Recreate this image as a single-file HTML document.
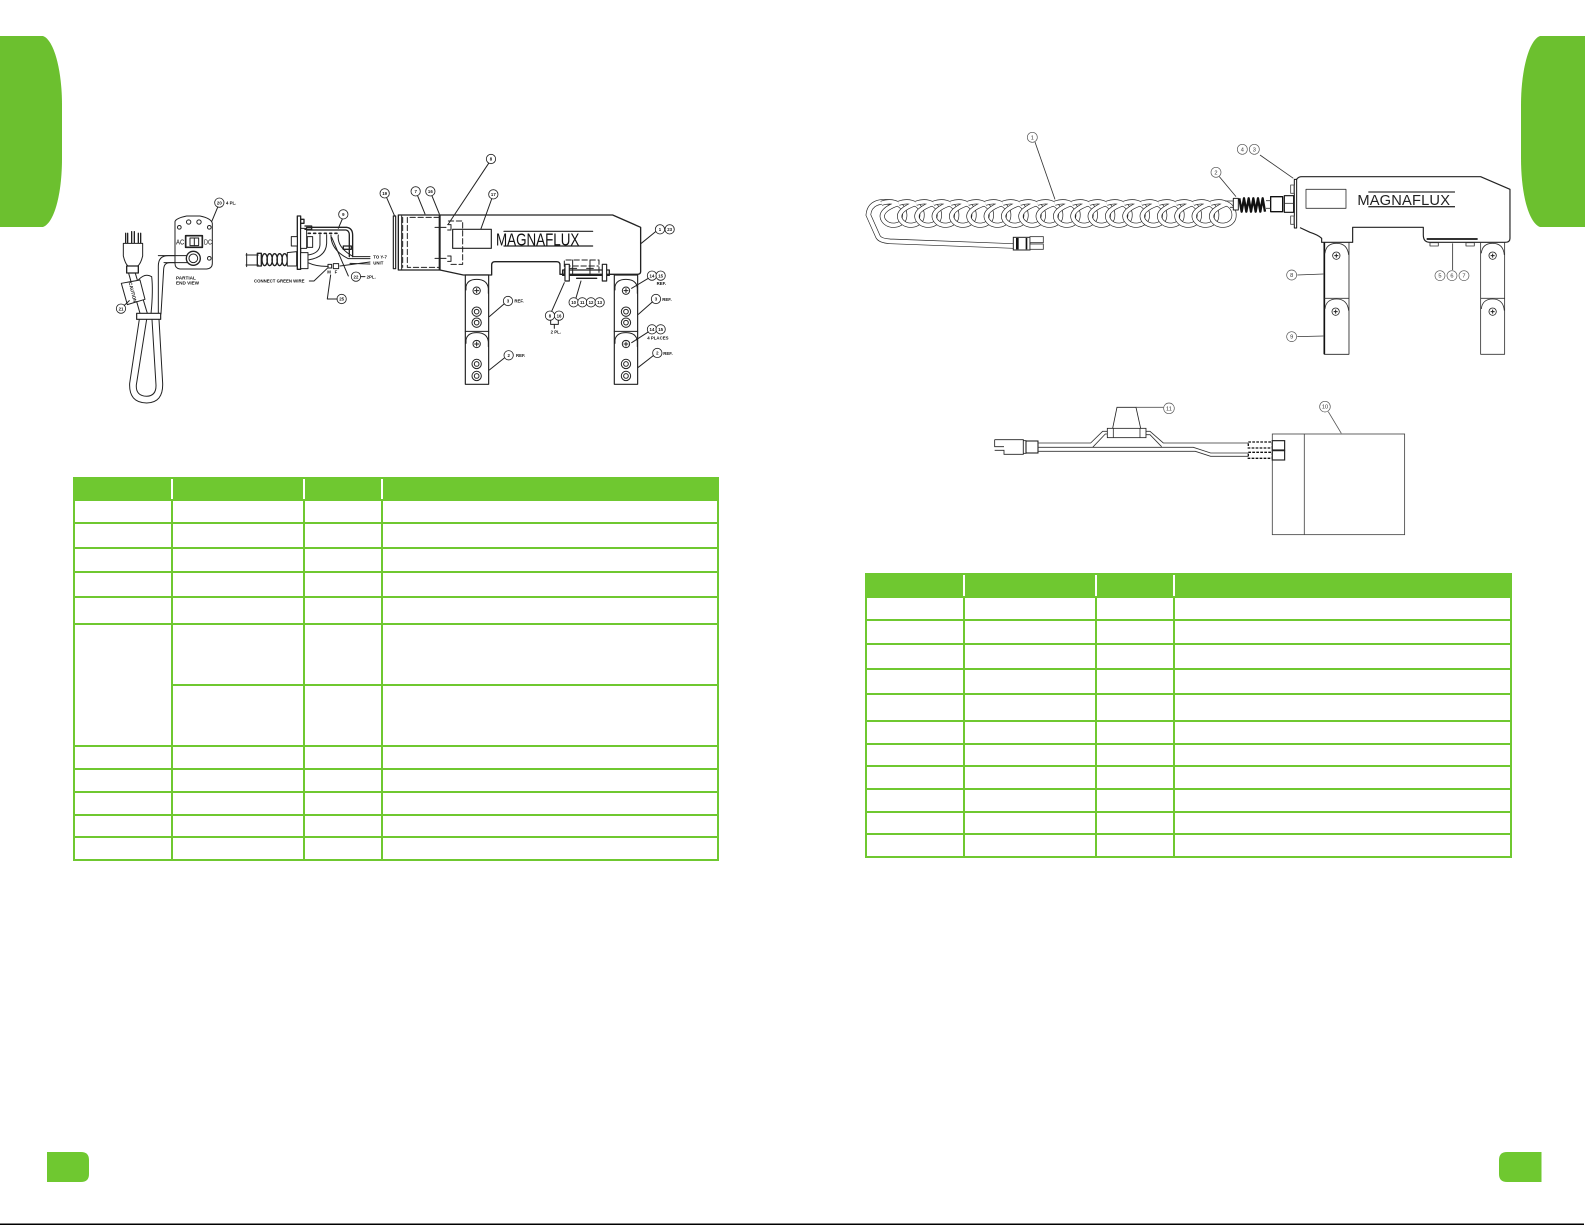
<!DOCTYPE html>
<html>
<head>
<meta charset="utf-8">
<style>
html,body{margin:0;padding:0;background:#fff;width:1585px;height:1225px;overflow:hidden}
svg{display:block;position:absolute;left:0;top:0}
text{font-family:"Liberation Sans",sans-serif;stroke:none;fill:#111}
.z{fill:none;stroke:#222;stroke-width:3;stroke-linecap:round;stroke-linejoin:round}
.z text{font-weight:bold;font-size:13px}
.z circle.c{fill:#fff;stroke:#222;stroke-width:2.5}
.t{fill:none;stroke:#333;stroke-width:2.5}
.t text{font-weight:normal;font-size:17px;fill:#333}
.t circle.c{fill:#fff;stroke:#555;stroke-width:2}
.d{stroke-dasharray:16 8}
</style>
</head>
<body>
<svg width="1585" height="1225" viewBox="0 0 1585 1225" xmlns="http://www.w3.org/2000/svg">
<defs>
<path id="lp" d="M-26 250C14 236 48 258 44 290C41 318 -4 326 -20 300C-32 280 -10 262 26 250"/>
<g id="bolt"><circle r="11" fill="#fff"/><path d="M-6 0H6M0 -6V6" stroke-width="3"/></g>
<g id="ring"><circle r="14"/><circle r="7"/></g>
</defs>
<rect width="1585" height="1225" fill="#fff"/>

<!-- side tabs -->
<path d="M0 36H43C54 40 62 70 62 105V158C62 195 54 223 43 227H0Z" fill="#6cc02f"/>
<path d="M1585 36H1540C1529 40 1521 70 1521 105V158C1521 195 1529 223 1540 227H1585Z" fill="#6cc02f"/>
<!-- footer tabs -->
<path d="M47 1152H81Q89 1152 89 1160V1174Q89 1182 81 1182H47Z" fill="#6fc830"/>
<path d="M1541.5 1152H1507Q1499 1152 1499 1160V1174Q1499 1182 1507 1182H1541.5Z" fill="#6fc830"/>
<rect x="0" y="1223.5" width="1584" height="1.5" fill="#000"/>

<!-- table 1 -->
<g shape-rendering="crispEdges">
<rect x="73" y="477" width="646" height="24" fill="#6fc830"/>
<g fill="#fff"><rect x="171" y="479" width="2" height="20"/><rect x="303" y="479" width="2" height="20"/><rect x="381" y="479" width="2" height="20"/></g>
<path fill="none" stroke="#6fc830" stroke-width="2" d="M74 477V861M172 500V861M304 500V861M382 500V861M718 477V861
M73 523H719M73 548H719M73 572H719M73 597H719M73 624H719M172 685H719M73 746H719M73 769H719M73 792H719M73 815H719M73 837H719M73 860H719"/>
</g>

<!-- table 2 -->
<g shape-rendering="crispEdges">
<rect x="865" y="573" width="647" height="25" fill="#6fc830"/>
<g fill="#fff"><rect x="963" y="575" width="2" height="21"/><rect x="1095" y="575" width="2" height="21"/><rect x="1173" y="575" width="2" height="21"/></g>
<path fill="none" stroke="#6fc830" stroke-width="2" d="M866 573V858M964 597V858M1096 597V858M1174 597V858M1511 573V858
M865 620H1512M865 644H1512M865 669H1512M865 694H1512M865 721H1512M865 744H1512M865 766H1512M865 789H1512M865 812H1512M865 834H1512M865 857H1512"/>
</g>

<!-- Left drawing part A: cord, end view, connector -->
<g class="z" transform="translate(90 140) scale(.3333)">
  <!-- plug -->
  <path d="M107 280V310M113 280V310M125 275V310M133 275V310M145 280V310M152 280V310" stroke-width="4"/>
  <path d="M100 310H158V348Q152 372 143 378H114Q106 372 100 348Z" fill="#fff"/>
  <rect x="110" y="378" width="35" height="21" stroke-width="4"/>
  <!-- cord -->
  <path d="M116 400L150 520M136 400L172 520"/>
  <path d="M145 420Q165 398 185 410Q190 450 183 522"/>
  <path d="M300 347H235Q205 347 205 378L205 522"/>
  <path d="M300 368H240Q222 368 221 388L213 522"/>
  <path d="M148 538L119 730Q116 788 170 789Q220 788 218 730L207 538"/>
  <path d="M170 538L139 735Q137 768 170 769Q199 768 198 735L186 538"/>
  <rect x="140" y="520" width="72" height="18" fill="#fff" stroke-width="3.5"/>
  <!-- tag -->
  <path d="M94 430L150 420L165 478L112 494Z" fill="#fff"/>
  <text transform="translate(116 428) rotate(76)" style="font-size:14px" textLength="62" lengthAdjust="spacingAndGlyphs">CAUTION</text>
  <circle class="c" cx="93" cy="506" r="14"/><text x="93" y="511" text-anchor="middle">21</text>
  <path d="M103 496L118 482"/>
  <!-- end view -->
  <path d="M255 245Q257 235 290 228H330Q364 235 367 250V370Q367 385 350 387H270Q255 385 255 370Z" fill="#fff"/>
  <circle cx="268" cy="262" r="5.5"/><circle cx="358" cy="262" r="5.5"/><circle cx="296" cy="246" r="6.5"/><circle cx="327" cy="246" r="6.5"/><circle cx="358" cy="355" r="5.5"/>
  <text x="258" y="314" style="font-size:21px;font-weight:normal" textLength="25" lengthAdjust="spacingAndGlyphs">AC</text>
  <text x="342" y="314" style="font-size:21px;font-weight:normal" textLength="24" lengthAdjust="spacingAndGlyphs">DC</text>
  <rect x="287" y="287" width="50" height="35" stroke-width="5"/>
  <rect x="300" y="294" width="26" height="23"/><path d="M313 294V317"/>
  <path d="M205 347H295M222 368H295"/>
  <circle cx="310" cy="355" r="21" fill="#fff" stroke-width="4"/><circle cx="310" cy="355" r="13"/>
  <text x="258" y="418" style="font-size:14px">PARTIAL</text>
  <text x="258" y="433" style="font-size:14px">END VIEW</text>
  <circle class="c" cx="388" cy="188" r="14"/><text x="388" y="193" text-anchor="middle">20</text>
  <path d="M383 202L365 245"/>
  <text x="408" y="194">4 PL.</text>
  <!-- coil -->
  <path d="M468 345H505M468 375H505M470 340V380"/>
  <rect x="502" y="340" width="12" height="38" stroke-width="4"/>
  <g stroke-width="4"><ellipse cx="524" cy="359" rx="8" ry="18"/><ellipse cx="539" cy="359" rx="8" ry="18"/><ellipse cx="554" cy="359" rx="8" ry="18"/><ellipse cx="569" cy="359" rx="8" ry="18"/><ellipse cx="584" cy="359" rx="8" ry="18"/></g>
  <path d="M592 338L620 335V378L592 378Z" fill="#fff"/>
  <!-- plate -->
  <rect x="622" y="228" width="10" height="160" fill="#fff" stroke-width="4"/>
  <rect x="604" y="290" width="18" height="28" fill="#fff"/>
  <rect x="632" y="338" width="22" height="48" fill="#fff"/>
  <rect x="632" y="265" width="18" height="60" fill="#fff"/>
  <rect x="652" y="290" width="16" height="32" fill="#fff"/>
  <path d="M632 238H642V250H632M645 258H665V268H645" stroke-width="4"/>
  <path d="M650 262H770Q788 265 788 285V350M650 270H768Q778 272 778 285V350" stroke-width="4"/>
  <path d="M655 280H750" stroke-width="5" stroke-dasharray="6 10"/>
  <rect x="760" y="318" width="24" height="10" stroke-width="4"/>
  <path d="M690 284V315Q688 340 654 345M710 284V310Q708 352 654 360M723 285Q722 330 775 356L840 356M745 285Q740 322 790 350L840 350"/>
  <path d="M725 292L775 408"/>
  <path d="M654 368Q680 380 715 379M750 378L840 366M780 370L840 372"/>
  <rect x="714" y="373" width="11" height="11"/><rect x="730" y="371" width="16" height="15"/>
  <text x="712" y="401">M</text><text x="734" y="400">F</text>
  <circle class="c" cx="760" cy="223" r="14"/><text x="760" y="228" text-anchor="middle">9</text>
  <path d="M757 237L745 265"/>
  <circle class="c" cx="798" cy="410" r="14"/><text x="798" y="415" text-anchor="middle">22</text>
  <path d="M812 410H825"/><text x="830" y="415">2PL.</text>
  <circle class="c" cx="755" cy="477" r="14"/><text x="755" y="482" text-anchor="middle">25</text>
  <path d="M742 477H712L722 405"/>
  <text x="492" y="427">CONNECT GREEN WIRE</text>
  <path d="M658 423H672L712 385"/>
  <text x="850" y="356">TO Y-7</text><text x="850" y="373">UNIT</text>
</g>

<!-- Left drawing part B: yoke -->
<g class="z" transform="translate(380 140) scale(.3333)">
  <rect x="40" y="228" width="7" height="158" stroke-width="3.5"/>
  <rect x="55" y="225" width="125" height="165" stroke-width="4"/>
  <path d="M65 228V388"/>
  <path class="d" d="M178 232H82V382H178M68 232V382" stroke-width="3"/>
  <path d="M180 225H698L782 262V395Q782 403 772 403H540V375Q540 365 530 365H345Q335 365 335 375V405H250L180 390" stroke-width="4"/>
  <rect x="176" y="225" width="5" height="165" fill="#222" stroke="none"/>
  <rect x="218" y="268" width="116" height="57" stroke-width="3.5"/>
  <path class="d" d="M205 243H248V373H205" stroke-width="3"/>
  <path d="M165 262H198M165 355H198M203 254H213V270H203M203 348H213V364H203"/>
  <text x="348" y="316" style="font-size:52px;font-weight:normal" textLength="250" lengthAdjust="spacingAndGlyphs">MAGNAFLUX</text>
  <path d="M372 274H638M372 318H638" stroke-width="3.5"/>
  <!-- legs -->
  <rect x="256" y="405" width="70" height="328" fill="#fff" stroke-width="3.5"/>
  <rect x="703" y="405" width="70" height="328" fill="#fff" stroke-width="3.5"/>
  <path d="M256 574H326M703 574H773"/>
  <path d="M258 450V440Q262 418 290 418Q322 418 325 445V460M258 610V600Q262 578 290 578Q322 578 325 605V620"/>
  <path d="M705 450V440Q709 418 738 418Q770 418 772 445V460M705 610V600Q709 578 738 578Q770 578 772 605V620"/>
  <use href="#bolt" x="290" y="452"/><use href="#ring" x="290" y="515"/><use href="#ring" x="290" y="548"/>
  <use href="#bolt" x="290" y="612"/><use href="#ring" x="290" y="672"/><use href="#ring" x="290" y="708"/>
  <use href="#bolt" x="738" y="452"/><use href="#ring" x="738" y="515"/><use href="#ring" x="738" y="548"/>
  <use href="#bolt" x="738" y="612"/><use href="#ring" x="738" y="672"/><use href="#ring" x="738" y="708"/>
  <!-- bracket -->
  <path class="d" d="M553 403V360H657V403M555 378H655" stroke-width="3"/>
  <path d="M578 360V403M630 360V403M570 385H590M620 385H640"/>
  <rect x="548" y="390" width="140" height="16" stroke-width="4"/>
  <rect x="555" y="373" width="13" height="50" fill="#fff" stroke-width="3.5"/>
  <rect x="667" y="373" width="13" height="50" fill="#fff" stroke-width="3.5"/>
  <path d="M590 415H650" stroke-width="4"/>
  <!-- callouts -->
  <circle class="c" cx="14" cy="160" r="14"/><text x="14" y="165" text-anchor="middle">19</text><path d="M20 173L43 226"/>
  <circle class="c" cx="107" cy="154" r="14"/><text x="107" y="159" text-anchor="middle">7</text><path d="M113 168L135 222"/>
  <circle class="c" cx="151" cy="154" r="14"/><text x="151" y="159" text-anchor="middle">16</text><path d="M156 168L178 222"/>
  <circle class="c" cx="333" cy="57" r="14"/><text x="333" y="62" text-anchor="middle">8</text><path d="M326 70L205 252"/>
  <circle class="c" cx="340" cy="163" r="14"/><text x="340" y="168" text-anchor="middle">17</text><path d="M335 177L303 266"/>
  <circle class="c" cx="840" cy="268" r="14"/><text x="840" y="273" text-anchor="middle">1</text>
  <circle class="c" cx="869" cy="268" r="14"/><text x="869" y="273" text-anchor="middle">23</text><path d="M827 275L784 310"/>
  <circle class="c" cx="384" cy="483" r="14"/><text x="384" y="488" text-anchor="middle">3</text><text x="403" y="488">REF.</text><path d="M372 492L328 530"/>
  <circle class="c" cx="386" cy="646" r="14"/><text x="386" y="651" text-anchor="middle">2</text><text x="408" y="651">REF.</text><path d="M373 654L328 690"/>
  <circle class="c" cx="816" cy="407" r="14"/><text x="816" y="412" text-anchor="middle">14</text>
  <circle class="c" cx="842" cy="407" r="14"/><text x="842" y="412" text-anchor="middle">15</text><text x="830" y="435">REF.</text><path d="M805 415L755 445"/>
  <circle class="c" cx="828" cy="477" r="14"/><text x="828" y="482" text-anchor="middle">3</text><text x="847" y="483">REF.</text><path d="M817 486L775 523"/>
  <circle class="c" cx="816" cy="568" r="14"/><text x="816" y="573" text-anchor="middle">14</text>
  <circle class="c" cx="842" cy="568" r="14"/><text x="842" y="573" text-anchor="middle">15</text><text x="802" y="599">4 PLACES</text><path d="M805 576L755 608"/>
  <circle class="c" cx="832" cy="639" r="14"/><text x="832" y="644" text-anchor="middle">2</text><text x="850" y="645">REF.</text><path d="M820 647L775 682"/>
  <circle class="c" cx="510" cy="527" r="14"/><text x="510" y="532" text-anchor="middle">8</text>
  <circle class="c" cx="537" cy="527" r="14"/><text x="537" y="532" text-anchor="middle">16</text>
  <path d="M512 541V553H535V541M523 553V565"/><text x="512" y="580">2 PL.</text><path d="M515 514L553 428"/>
  <circle class="c" cx="581" cy="487" r="14"/><text x="581" y="492" text-anchor="middle">10</text>
  <circle class="c" cx="607" cy="487" r="14"/><text x="607" y="492" text-anchor="middle">11</text>
  <circle class="c" cx="633" cy="487" r="14"/><text x="633" y="492" text-anchor="middle">12</text>
  <circle class="c" cx="659" cy="487" r="14"/><text x="659" y="492" text-anchor="middle">13</text>
  <path d="M588 474L603 423"/>
</g>

<!-- Right drawing: coil cord -->
<g class="t" transform="translate(850 120) scale(.3333)">
  <path d="M140 250Q60 232 55 285L84 350Q90 362 120 364L490 378" fill="none" stroke="#222" stroke-width="16"/>
  <path d="M140 250Q60 232 55 285L84 350Q90 362 120 364L490 378" fill="none" stroke="#fff" stroke-width="12"/>
  <g>
    <use href="#lp" x="120" stroke="#222" stroke-width="15"/><use href="#lp" x="120" stroke="#fff" stroke-width="11"/>
    <use href="#lp" x="172" stroke="#222" stroke-width="15"/><use href="#lp" x="172" stroke="#fff" stroke-width="11"/>
    <use href="#lp" x="224" stroke="#222" stroke-width="15"/><use href="#lp" x="224" stroke="#fff" stroke-width="11"/>
    <use href="#lp" x="276" stroke="#222" stroke-width="15"/><use href="#lp" x="276" stroke="#fff" stroke-width="11"/>
    <use href="#lp" x="328" stroke="#222" stroke-width="15"/><use href="#lp" x="328" stroke="#fff" stroke-width="11"/>
    <use href="#lp" x="380" stroke="#222" stroke-width="15"/><use href="#lp" x="380" stroke="#fff" stroke-width="11"/>
    <use href="#lp" x="432" stroke="#222" stroke-width="15"/><use href="#lp" x="432" stroke="#fff" stroke-width="11"/>
    <use href="#lp" x="484" stroke="#222" stroke-width="15"/><use href="#lp" x="484" stroke="#fff" stroke-width="11"/>
    <use href="#lp" x="536" stroke="#222" stroke-width="15"/><use href="#lp" x="536" stroke="#fff" stroke-width="11"/>
    <use href="#lp" x="588" stroke="#222" stroke-width="15"/><use href="#lp" x="588" stroke="#fff" stroke-width="11"/>
    <use href="#lp" x="640" stroke="#222" stroke-width="15"/><use href="#lp" x="640" stroke="#fff" stroke-width="11"/>
    <use href="#lp" x="692" stroke="#222" stroke-width="15"/><use href="#lp" x="692" stroke="#fff" stroke-width="11"/>
    <use href="#lp" x="744" stroke="#222" stroke-width="15"/><use href="#lp" x="744" stroke="#fff" stroke-width="11"/>
    <use href="#lp" x="796" stroke="#222" stroke-width="15"/><use href="#lp" x="796" stroke="#fff" stroke-width="11"/>
    <use href="#lp" x="848" stroke="#222" stroke-width="15"/><use href="#lp" x="848" stroke="#fff" stroke-width="11"/>
    <use href="#lp" x="900" stroke="#222" stroke-width="15"/><use href="#lp" x="900" stroke="#fff" stroke-width="11"/>
    <use href="#lp" x="952" stroke="#222" stroke-width="15"/><use href="#lp" x="952" stroke="#fff" stroke-width="11"/>
    <use href="#lp" x="1004" stroke="#222" stroke-width="15"/><use href="#lp" x="1004" stroke="#fff" stroke-width="11"/>
    <use href="#lp" x="1056" stroke="#222" stroke-width="15"/><use href="#lp" x="1056" stroke="#fff" stroke-width="11"/>
    <use href="#lp" x="1108" stroke="#222" stroke-width="15"/><use href="#lp" x="1108" stroke="#fff" stroke-width="11"/>
  </g>
  <path d="M1125 243H1150M1140 262H1150"/>
  <!-- plug end -->
  <rect x="490" y="352" width="50" height="38" fill="#fff" stroke="#222" stroke-width="3"/>
  <rect x="498" y="354" width="8" height="34" fill="#111" stroke="none"/>
  <rect x="527" y="354" width="5" height="34" fill="#111" stroke="none"/>
  <rect x="540" y="350" width="40" height="18" fill="#fff"/>
  <rect x="540" y="372" width="40" height="16" fill="#fff"/>
  <circle class="c" cx="547" cy="52" r="15"/><text x="547" y="58" text-anchor="middle">1</text>
  <path d="M555 66L615 238"/>
</g>

<!-- Right drawing: yoke -->
<g class="t" transform="translate(1200 130) scale(.3333)" stroke-linejoin="round">
  <path d="M290 148Q295 140 305 140H842L930 178V325Q930 337 915 337H690Q670 337 670 315V292H458V337H365V325Q355 315 330 307L300 293" stroke="#222" stroke-width="3.5"/>
  <rect x="283" y="148" width="7" height="146" fill="#fff" stroke="#111" stroke-width="3"/>
  <rect x="272" y="165" width="10" height="25" stroke="#444"/><rect x="272" y="258" width="10" height="25" stroke="#444"/>
  <rect x="318" y="178" width="120" height="57" stroke="#333"/>
  <text x="472" y="225" style="font-size:44px;fill:#222" textLength="278" lengthAdjust="spacing">MAGNAFLUX</text>
  <path d="M505 186H765M505 230H765" stroke="#333" stroke-width="4"/>
  <!-- coil + connector -->
  <rect x="100" y="205" width="15" height="35" fill="#fff" stroke="#222" stroke-width="3"/>
  <path d="M118 205L125 245L132 205L139 245L146 205L153 245L160 205L167 245L174 205L181 245L188 205L195 245" stroke="#111" stroke-width="7" fill="none"/>
  <rect x="212" y="200" width="36" height="45" fill="#fff" stroke="#111" stroke-width="4"/>
  <path d="M198 212H212M198 235H212"/>
  <rect x="253" y="197" width="28" height="50" fill="#fff" stroke="#111" stroke-width="3.5"/>
  <path d="M253 220H281"/>
  <!-- strip and pads -->
  <path d="M680 327H833" stroke="#333" stroke-width="6"/>
  <rect x="690" y="338" width="25" height="10"/><rect x="798" y="338" width="25" height="10"/>
  <!-- legs -->
  <path d="M373 338V673H447V338" stroke="#222"/><path d="M373 338V673" stroke="#111" stroke-width="5"/>
  <path d="M842 338V673H914V338"/>
  <path d="M373 505H447M842 505H914"/>
  <path d="M375 370Q378 340 410 340Q442 340 446 375M375 537Q378 507 410 507Q442 507 446 542M844 370Q847 340 878 340Q910 340 913 375M844 537Q847 507 878 507Q910 507 913 542"/>
  <use href="#bolt" x="409" y="377" stroke="#222"/><use href="#bolt" x="407" y="545" stroke="#222"/>
  <use href="#bolt" x="878" y="377" stroke="#222"/><use href="#bolt" x="878" y="545" stroke="#222"/>
  <!-- callouts -->
  <circle class="c" cx="127" cy="58" r="15"/><text x="127" y="64" text-anchor="middle">4</text>
  <circle class="c" cx="163" cy="58" r="15"/><text x="163" y="64" text-anchor="middle">3</text>
  <path d="M180 75L280 145"/>
  <circle class="c" cx="48" cy="127" r="15"/><text x="48" y="133" text-anchor="middle">2</text>
  <path d="M58 140L108 200"/>
  <circle class="c" cx="275" cy="435" r="15"/><text x="275" y="441" text-anchor="middle">8</text>
  <path d="M292 435L370 432"/>
  <circle class="c" cx="275" cy="620" r="15"/><text x="275" y="626" text-anchor="middle">9</text>
  <path d="M292 620L370 618"/>
  <circle class="c" cx="720" cy="437" r="15"/><text x="720" y="443" text-anchor="middle">5</text>
  <circle class="c" cx="756" cy="437" r="15"/><text x="756" y="443" text-anchor="middle">6</text>
  <circle class="c" cx="792" cy="437" r="15"/><text x="792" y="443" text-anchor="middle">7</text>
  <path d="M758 420V340"/>
</g>

<!-- Right drawing: power supply -->
<g class="t" transform="translate(970 390) scale(.3333)">
  <rect x="907" y="132" width="397" height="302" stroke="#444"/>
  <path d="M1003 132V434" stroke="#444"/>
  <path d="M74 149H160V193H102V181M74 149V170H102M74 181H102V193" stroke="#222"/>
  <rect x="160" y="152" width="8" height="38" fill="#fff" stroke="#222"/>
  <rect x="168" y="153" width="36" height="36" fill="#fff" stroke="#111" stroke-width="3"/>
  <path d="M204 159H362L398 124H412M204 172H368L406 132H412M204 184H676L722 199H835M368 172H670L722 189H835" stroke="#333"/>
  <path d="M528 124H540L580 159H835M528 134L540 134L575 170" stroke="#333"/>
  <rect x="412" y="115" width="116" height="28" fill="#fff" stroke="#222"/>
  <path d="M430 115V143M510 115V143"/>
  <path d="M428 115L441 52H498L512 115" stroke="#222"/>
  <path d="M498 52H580" stroke="#555"/>
  <rect x="835" y="156" width="72" height="18" fill="#fff" stroke="#111" stroke-dasharray="8 4" stroke-width="4"/>
  <rect x="835" y="187" width="72" height="18" fill="#fff" stroke="#111" stroke-dasharray="8 4" stroke-width="4"/>
  <rect x="907" y="152" width="37" height="28" fill="#fff" stroke="#222" stroke-width="3.5"/>
  <rect x="907" y="182" width="37" height="28" fill="#fff" stroke="#222" stroke-width="3.5"/>
  <circle class="c" cx="597" cy="55" r="16"/><text x="597" y="61" text-anchor="middle">11</text>
  <circle class="c" cx="1065" cy="50" r="16"/><text x="1065" y="56" text-anchor="middle">10</text>
  <path d="M1075 65L1114 130" stroke="#555"/>
</g>
</svg>
</body>
</html>
